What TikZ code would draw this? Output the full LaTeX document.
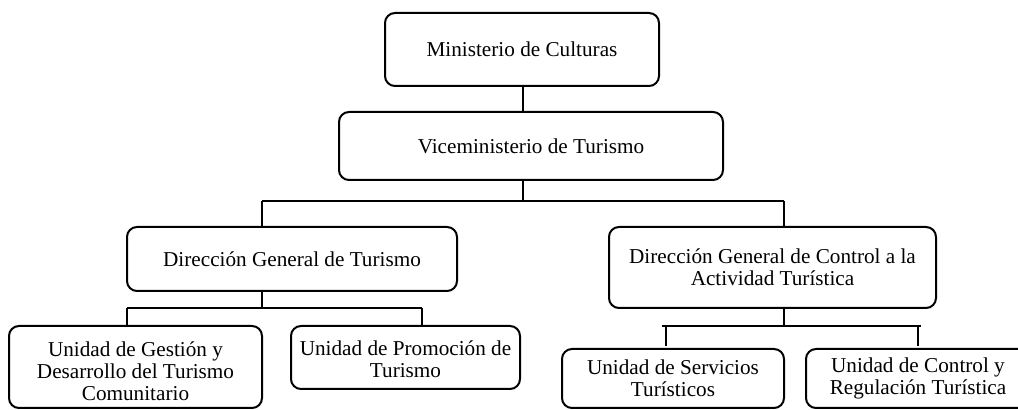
\documentclass[tikz,border=0pt]{standalone}
\usepackage{fontspec}
\setmainfont{Liberation Serif}
\newcommand\lowered[2]{\raisebox{-#1}[\height][\depth]{\begin{tabular}{@{}c@{}}#2\end{tabular}}}
\begin{document}
\begin{tikzpicture}[x=0.5pt,y=-0.5pt,
  box/.style={draw=black, line width=1pt, rounded corners=5pt, inner sep=0pt, outer sep=0pt,
    align=center, font=\fontsize{10.6}{10.9}\selectfont, fill=white},
  conn/.style={draw=black, line width=1pt}]
\useasboundingbox (0,0) rectangle (1018,410);
\clip (0,0) rectangle (1018,410);
\fill[white] (0,0) rectangle (1018,410);
% boxes
\node[box, minimum width=137pt, minimum height=36.5pt] (A) at (522,49.5) {Ministerio de Culturas};
\node[box, minimum width=192pt, minimum height=34pt] (B) at (531,146) {Viceministerio de Turismo};
\node[box, minimum width=165pt, minimum height=32pt] (C) at (292,259) {Dirección General de Turismo};
\node[box, minimum width=163.5pt, minimum height=40.5pt] (D) at (772.5,267.5) {Dirección General de Control a la\\Actividad Turística};
\node[box, minimum width=126.5pt, minimum height=41pt] (E) at (135.5,367) {\lowered{3.5pt}{Unidad de Gestión y\\Desarrollo del Turismo\\Comunitario}};
\node[box, minimum width=114.5pt, minimum height=31.5pt] (F) at (405.5,357.5) {\lowered{2.5pt}{Unidad de Promoción de\\Turismo}};
\node[box, minimum width=111pt, minimum height=29.5pt] (G) at (673,378.5) {Unidad de Servicios\\Turísticos};
\node[box, minimum width=112pt, minimum height=29.5pt] (H) at (918,378.5) {Unidad de Control y\\Regulación Turística};
% junction coordinates
\coordinate (jAB) at (523,0);
\coordinate (jB) at (523,201);
\coordinate (jC) at (262,201);
\coordinate (jD) at (784,201);
\coordinate (kC) at (262,308);
\coordinate (kE) at (127,308);
\coordinate (kF) at (422,308);
\coordinate (kD) at (784,326);
\coordinate (kG) at (666,326);
\coordinate (kH) at (918,326);
\coordinate (kL) at (662,326);
\coordinate (kR) at (921,326);
% connectors
\draw[conn] (A.south -| jAB) -- (B.north -| jAB);
\draw[conn] (B.south -| jB) -- (jB);
\draw[conn] (jC) -- (jD);
\draw[conn] (jC) -- (C.north -| jC);
\draw[conn] (jD) -- (D.north -| jD);
\draw[conn] (C.south -| kC) -- (kC);
\draw[conn] (kE) -- (kF);
\draw[conn] (kE) -- (E.north -| kE);
\draw[conn] (kF) -- (F.north -| kF);
\draw[conn] (D.south -| kD) -- (kD);
\draw[conn] (kL) -- (kR);
\draw[conn] (kG) -- ([yshift=1.5pt]G.north -| kG);
\draw[conn] (kH) -- ([yshift=1.5pt]H.north -| kH);
\end{tikzpicture}
\end{document}
